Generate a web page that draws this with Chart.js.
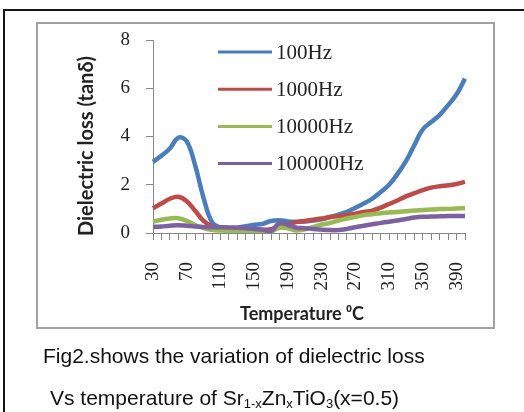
<!DOCTYPE html>
<html>
<head>
<meta charset="utf-8">
<script src="https://cdn.jsdelivr.net/npm/chart.js@4/dist/chart.umd.min.js"></script>
<style>
  html, body { margin: 0; padding: 0; background: #fff; }
  body { width: 524px; height: 412px; position: relative; overflow: hidden; }
  #outer { position: absolute; left: 3px; top: 9px; width: 600px; height: 600px;
           border-left: 2px solid #151515; border-top: 2px solid #151515; }
  #frame { position: absolute; left: 36px; top: 22px; width: 455px; height: 303px;
           border: 2px solid #a2a2a2; background: #fff; }
  #plot { position: absolute; left: 0; top: 0; }
  #caption { position: absolute; left: 43px; top: 335px; font: 21px 'Liberation Sans', Arial, sans-serif;
             line-height: 42px; color: #111; white-space: nowrap; }
  #caption .l2 { padding-left: 7px; }
  #caption sub { font-size: 13px; vertical-align: -3px; line-height: 0; }
</style>
</head>
<body>
<div id="outer"></div>
<div id="frame"></div>
<canvas id="plot" width="524" height="412"></canvas>
<div id="caption">
  <div>Fig2.shows the variation of dielectric loss</div>
  <div class="l2">Vs temperature of Sr<sub>1-x</sub>Zn<sub>x</sub>TiO<sub>3</sub>(x=0.5)</div>
</div>
<script>
// Temperature (°C) categories
const temps = [30, 40, 50, 60, 70, 80, 90, 100, 110, 120, 130, 140, 150, 160, 170, 180, 190, 200, 210,
               220, 230, 240, 250, 260, 270, 280, 290, 300, 310, 320, 330, 340, 350, 360, 370, 380, 390, 400];

// Dielectric loss (tan δ) at each frequency
const loss100Hz = [2.95, 3.2, 3.5, 3.95, 3.8, 2.8, 1.45, 0.45, 0.22,
                   0.2, 0.22, 0.28, 0.34, 0.38, 0.5, 0.53, 0.48, 0.47,
                   0.48, 0.52, 0.57, 0.66, 0.76, 0.88, 1.05, 1.22, 1.42,
                   1.7, 2.0, 2.45, 2.98, 3.65, 4.3, 4.6, 4.9, 5.3, 5.75,
                   6.4];
const loss1000Hz = [1.03, 1.22, 1.42, 1.5, 1.32, 0.92, 0.5, 0.28, 0.22,
                    0.2, 0.2, 0.18, 0.15, 0.13, 0.16, 0.25, 0.35, 0.45,
                    0.5, 0.55, 0.6, 0.66, 0.7, 0.75, 0.8, 0.87, 0.93,
                    1.05, 1.2, 1.35, 1.52, 1.65, 1.78, 1.88, 1.94, 1.98, 2.03,
                    2.12];
const loss10000Hz = [0.47, 0.55, 0.6, 0.61, 0.5, 0.33, 0.2, 0.12, 0.1,
                     0.09, 0.08, 0.08, 0.07, 0.07, 0.07, 0.22, 0.2, 0.1,
                     0.15, 0.25, 0.35, 0.42, 0.52, 0.6, 0.67, 0.74, 0.78,
                     0.82, 0.85, 0.87, 0.9, 0.93, 0.95, 0.97, 0.99, 1.0, 1.02,
                     1.03];
const loss100000Hz = [0.25, 0.27, 0.3, 0.32, 0.3, 0.27, 0.25, 0.24, 0.24,
                      0.23, 0.22, 0.2, 0.17, 0.14, 0.08, 0.42, 0.33, 0.22,
                      0.2, 0.17, 0.14, 0.12, 0.12, 0.17, 0.24, 0.3, 0.36,
                      0.42, 0.47, 0.52, 0.58, 0.64, 0.67, 0.68, 0.69, 0.7, 0.7,
                      0.7];

const seriesLabels = ['100Hz', '1000Hz', '10000Hz', '100000Hz'];
const seriesColors = ['#4A7EBB', '#BE4B48', '#98B954', '#7D60A0'];
const yTicks = [0, 2, 4, 6, 8];
const labelEvery = 4;

const yTitle = 'Dielectric loss (tanδ)';
const xTitle = 'Temperature \u2070C';

const axisGray = '#868686';
const tickFont = { family: "'Liberation Serif', serif", size: 19 };

// Legend drawn inside the plot area, one series per row
const seriesKey = {
  id: 'seriesKey',
  afterDraw(chart) {
    const { ctx } = chart;
    ctx.save();
    ctx.font = "21px 'Liberation Serif', serif";
    ctx.textBaseline = 'middle';
    ctx.textAlign = 'left';
    chart.data.datasets.forEach((ds, i) => {
      const y = 52 + i * 37.2;
      ctx.strokeStyle = ds.borderColor;
      ctx.lineWidth = 3;
      ctx.beginPath();
      ctx.moveTo(218, y);
      ctx.lineTo(272, y);
      ctx.stroke();
      ctx.fillStyle = '#222';
      ctx.fillText(ds.label, 276, y + 1);
    });
    ctx.restore();
  }
};

// Axis titles
const axisTitles = {
  id: 'axisTitles',
  afterDraw(chart) {
    const { ctx } = chart;
    ctx.save();
    ctx.fillStyle = '#222';
    ctx.textAlign = 'center';
    ctx.textBaseline = 'middle';
    ctx.font = "bold 20px Lato, sans-serif";
    ctx.save();
    ctx.translate(87, 146);
    ctx.rotate(-Math.PI / 2);
    ctx.fillText(yTitle, 0, 0);
    ctx.restore();
    ctx.font = "bold 18px Lato, sans-serif";
    ctx.fillText(xTitle, 302, 314);
    ctx.restore();
  }
};

const seriesData = [loss100Hz, loss1000Hz, loss10000Hz, loss100000Hz];

new Chart(document.getElementById('plot'), {
  type: 'line',
  data: {
    labels: temps,
    datasets: seriesData.map((d, i) => ({
      label: seriesLabels[i],
      data: d,
      borderColor: seriesColors[i],
      backgroundColor: seriesColors[i],
      borderWidth: 4.5,
      pointRadius: 0,
      tension: 0.4,
      fill: false,
      order: seriesData.length - i
    }))
  },
  options: {
    responsive: false,
    animation: false,
    devicePixelRatio: 1,
    layout: { padding: { left: 40, top: 40, right: 59, bottom: 119 } },
    plugins: { legend: { display: false }, tooltip: { enabled: false } },
    scales: {
      x: {
        type: 'category',
        offset: false,
        grid: { display: true, drawOnChartArea: false, drawTicks: true, tickLength: 7, color: axisGray },
        border: { display: true, color: axisGray, width: 1 },
        ticks: {
          autoSkip: false, minRotation: 90, maxRotation: 90, padding: 22,
          font: tickFont, color: '#222',
          callback: (v, i) => (i % labelEvery === 0 ? String(temps[i]) : '')
        },
        afterFit: (s) => { s.height = 60; }
      },
      y: {
        min: yTicks[0], max: yTicks[yTicks.length - 1],
        grid: { display: true, drawOnChartArea: false, drawTicks: true, tickLength: 7, color: axisGray },
        border: { display: true, color: axisGray, width: 1 },
        afterBuildTicks: (s) => { s.ticks = yTicks.map((v) => ({ value: v })); },
        ticks: { padding: 16, font: tickFont, color: '#222' },
        afterFit: (s) => { s.width = 113; }
      }
    }
  },
  plugins: [seriesKey, axisTitles]
});
</script>
</body>
</html>
